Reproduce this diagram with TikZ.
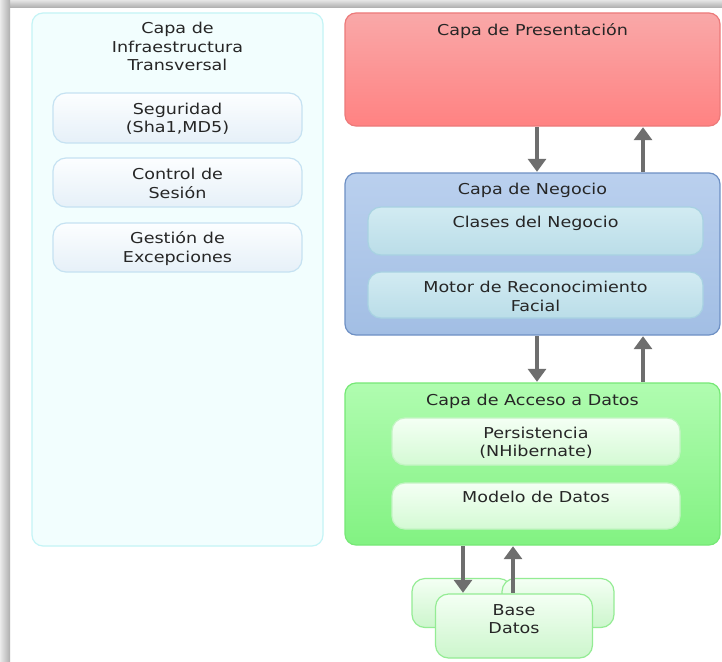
\documentclass[tikz,border=0pt]{standalone}
\usepackage{fontspec}
\setmainfont{DejaVu Sans}[FakeStretch=1.17]
\usetikzlibrary{arrows.meta}

\definecolor{txt}{HTML}{262626}
\definecolor{arrowgray}{HTML}{6E6E6E}
\definecolor{infraFill}{HTML}{F2FEFE}
\definecolor{infraLine}{HTML}{C4F4F6}
\definecolor{infraInTop}{HTML}{FCFEFF}
\definecolor{infraInBot}{HTML}{E6F0F8}
\definecolor{infraInLine}{HTML}{C6E2F2}
\definecolor{presTop}{HTML}{F9A8A8}
\definecolor{presBot}{HTML}{FF8282}
\definecolor{presLine}{HTML}{EC7A7A}
\definecolor{negTop}{HTML}{BAD0EE}
\definecolor{negBot}{HTML}{A2BEE4}
\definecolor{negLine}{HTML}{6E90C4}
\definecolor{negInTop}{HTML}{D2EBF2}
\definecolor{negInBot}{HTML}{BADDE8}
\definecolor{negInLine}{HTML}{A8D2E2}
\definecolor{accTop}{HTML}{B0FCB0}
\definecolor{accBot}{HTML}{82F282}
\definecolor{accLine}{HTML}{76E876}
\definecolor{accInTop}{HTML}{F4FFF4}
\definecolor{accInBot}{HTML}{D4FAD4}
\definecolor{accInLine}{HTML}{C4F4C4}
\definecolor{dbTop}{HTML}{F4FFF4}
\definecolor{dbBot}{HTML}{CCF6CC}
\definecolor{dbLine}{HTML}{94EC94}

\tikzset{
  panel/.style={draw, rounded corners=11pt, line width=1.2pt, inner sep=0pt},
  infra/.style={panel, draw=infraLine, fill=infraFill},
  infrain/.style={panel, draw=infraInLine, top color=infraInTop, bottom color=infraInBot, rounded corners=13pt},
  pres/.style={panel, draw=presLine, top color=presTop, bottom color=presBot},
  neg/.style={panel, draw=negLine, top color=negTop, bottom color=negBot},
  negin/.style={panel, draw=negInLine, top color=negInTop, bottom color=negInBot, rounded corners=13pt},
  acc/.style={panel, draw=accLine, top color=accTop, bottom color=accBot},
  accin/.style={panel, draw=accInLine, top color=accInTop, bottom color=accInBot, rounded corners=13pt},
  db/.style={panel, draw=dbLine, top color=dbTop, bottom color=dbBot, rounded corners=13pt},
  label/.style={text=txt, font=\fontsize{15}{18.2}\selectfont, align=center, inner sep=0pt, anchor=north},
  arr/.style={draw=arrowgray, line width=3.2pt,
    -{Triangle[width=18pt,length=13pt]}, shorten <=0.6pt, shorten >=0.6pt}
}

\begin{document}
\begin{tikzpicture}[x=1pt, y=-1pt]
  \useasboundingbox (0,0) rectangle (722,661);
  % page background with a soft shadow on the left and top edges
  \fill[white] (0,0) rectangle (722,661);
  \shade[top color=black!10, bottom color=black!33] (0,0) rectangle (722,8);
  \shade[left color=black!8, right color=black!32] (0,0) rectangle (10,661);

  % cross-cutting infrastructure column
  \node[infra, minimum width=291pt, minimum height=533pt] (infra) at (177.5,279.5) {};
  \node[label] (infraT) at ([yshift=-10pt]infra.north) {Capa de\\Infraestructura\\Transversal};
  \node[infrain, minimum width=249pt, minimum height=50pt] (seg) at (177.5,118) {};
  \node[label, anchor=center] (segT) at ([yshift=-1pt]seg.center) {Seguridad\\(Sha1,MD5)};
  \node[infrain, minimum width=249pt, minimum height=49pt] (ses) at (177.5,182.5) {};
  \node[label, anchor=center] (sesT) at ([yshift=-1pt]ses.center) {Control de\\Sesión};
  \node[infrain, minimum width=249pt, minimum height=49pt] (exc) at (177.5,247.5) {};
  \node[label, anchor=center] (excT) at ([yshift=-1pt]exc.center) {Gestión de\\Excepciones};

  % presentation layer
  \node[pres, minimum width=375pt, minimum height=113pt] (pres) at (532.5,69.5) {};
  \node[label] (presT) at ([yshift=-11pt]pres.north) {Capa de Presentación};

  % business layer
  \node[neg, minimum width=375pt, minimum height=162pt] (neg) at (532.5,254) {};
  \node[label] (negT) at ([yshift=-11pt]neg.north) {Capa de Negocio};
  \node[negin, minimum width=335pt, minimum height=48pt] (cls) at (535.5,231) {};
  \node[label] (clsT) at ([yshift=-10pt]cls.north) {Clases del Negocio};
  \node[negin, minimum width=335pt, minimum height=46pt] (mot) at (535.5,295) {};
  \node[label, anchor=center] (motT) at ([yshift=-1.5pt]mot.center) {Motor de Reconocimiento\\Facial};

  % data access layer
  \node[acc, minimum width=375pt, minimum height=162pt] (acc) at (532.5,464) {};
  \node[label] (accT) at ([yshift=-11pt]acc.north) {Capa de Acceso a Datos};
  \node[accin, minimum width=288pt, minimum height=47pt] (per) at (536,441.5) {};
  \node[label, anchor=center] (perT) at ([yshift=-1pt]per.center) {Persistencia\\(NHibernate)};
  \node[accin, minimum width=288pt, minimum height=46pt] (mod) at (536,506) {};
  \node[label] (modT) at ([yshift=-8pt]mod.north) {Modelo de Datos};

  % stacked databases
  \node[db, minimum width=100pt, minimum height=49pt] (dbA) at (462,603) {};
  \node[db, minimum width=112pt, minimum height=49pt] (dbB) at (558,603) {};
  \node[db, minimum width=157pt, minimum height=64pt] (db) at (514,626) {};
  \node[label] (dbT) at ([yshift=-10.5pt]db.north) {Base\\Datos};

  % request / response arrows between layers
  \draw[arr] (pres.south -| 537,0) -- (neg.north -| 537,0);
  \draw[arr] (neg.north -| 643,0) -- (pres.south -| 643,0);
  \draw[arr] (neg.south -| 537,0) -- (acc.north -| 537,0);
  \draw[arr] (acc.north -| 643,0) -- (neg.south -| 643,0);
  \draw[arr] (acc.south -| 463,0) -- (db.north -| 463,0);
  \draw[arr] (db.north -| 513,0) -- (acc.south -| 513,0);
\end{tikzpicture}
\end{document}
